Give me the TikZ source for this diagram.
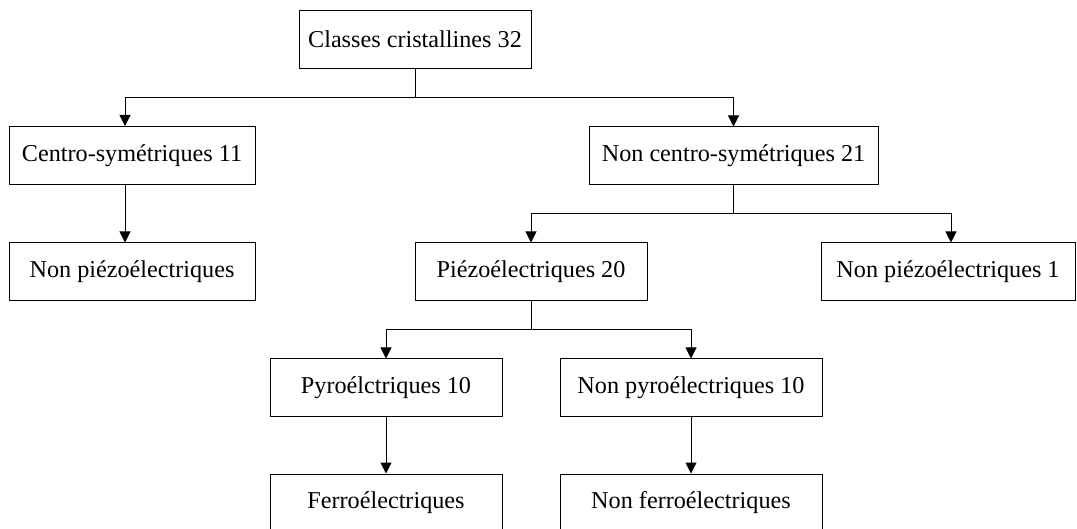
\documentclass[tikz,border=0pt]{standalone}
\usepackage{fontspec}
\setmainfont{Liberation Serif}
\usetikzlibrary{arrows.meta}
\begin{document}
\begin{tikzpicture}[x=1pt,y=-1pt,
  box/.style={draw, line width=1pt, inner sep=0pt, minimum height=58pt, font=\fontsize{24.2}{29}\selectfont},
  arr/.style={line width=1pt, -{Triangle[length=11pt,width=11pt]}}]
\useasboundingbox (0,0) rectangle (1077,529);
\clip (0,0) rectangle (1077,529);
\node[box, minimum width=232pt] (top) at (415,39.5) {Classes cristallines 32};
\node[box, minimum width=246pt] (centro) at (132,155.5) {Centro-symétriques 11};
\node[box, minimum width=289pt] (noncentro) at (733.5,156) {Non centro-symétriques 21};
\node[box, minimum width=246pt] (nonpiezo) at (132,272) {Non piézoélectriques};
\node[box, minimum width=232pt] (piezo) at (531,272) {Piézoélectriques 20};
\node[box, minimum width=254pt] (nonpiezoone) at (948,272) {Non piézoélectriques 1};
\node[box, minimum width=232pt] (pyro) at (386,388) {Pyroélctriques 10};
\node[box, minimum width=262pt] (nonpyro) at (691,388) {Non pyroélectriques 10};
\node[box, minimum width=232pt] (ferro) at (386,503) {Ferroélectriques};
\node[box, minimum width=262pt] (nonferro) at (691,503) {Non ferroélectriques};
% level 1
\draw[arr] (top.south) -- ++(0,29) -| ([xshift=-7pt]centro.north);
\draw[arr] (top.south) -- ++(0,29) -| (noncentro.north);
% centro branch
\draw[arr] ([xshift=-7pt]centro.south) -- ([xshift=-7pt]nonpiezo.north);
% noncentro branch
\draw[arr] (noncentro.south) -- ++(0,28) -| (piezo.north);
\draw[arr] (noncentro.south) -- ++(0,28) -| ([xshift=3pt]nonpiezoone.north);
% piezo branch
\draw[arr] (piezo.south) -- ++(0,28) -| (pyro.north);
\draw[arr] (piezo.south) -- ++(0,28) -| (nonpyro.north);
% lower
\draw[arr] (pyro.south) -- (ferro.north);
\draw[arr] (nonpyro.south) -- (nonferro.north);
\end{tikzpicture}
\end{document}
